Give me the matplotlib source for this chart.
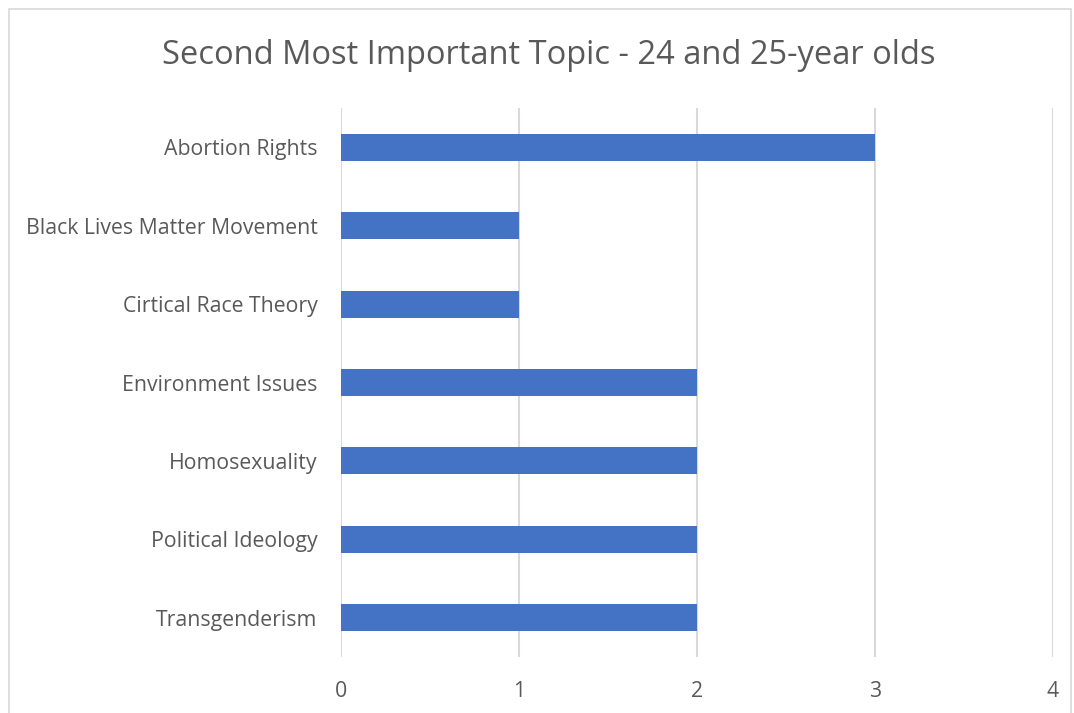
import matplotlib
matplotlib.use("Agg")
import matplotlib.pyplot as plt
from matplotlib.patches import Rectangle

topics = [
    "Abortion Rights",
    "Black Lives Matter Movement",
    "Cirtical Race Theory",
    "Environment Issues",
    "Homosexuality",
    "Political Ideology",
    "Transgenderism",
]
counts = [3, 1, 1, 2, 2, 2, 2]
x_ticks = [0, 1, 2, 3, 4]

W, H = 1074, 713
fig = plt.figure(figsize=(W / 100, H / 100), dpi=100)
plt.rcParams["font.family"] = ["Open Sans", "DejaVu Sans"]

# chart frame
fig.patches.append(Rectangle((9 / W, -0.05), (1071 - 9) / W, 1.05 - 9 / H,
                             transform=fig.transFigure, fill=False,
                             edgecolor="#d9d9d9", linewidth=1.2))

ax = fig.add_axes([341 / W, 1 - 657 / H, (1053 - 341) / W, (657 - 108) / H])
ypos = list(range(len(topics)))
ax.barh(ypos, counts, height=0.345, color="#4472C4", zorder=3)
ax.set_ylim(len(topics) - 0.5, -0.5)
ax.set_xlim(0, 4)
ax.set_xticks(x_ticks)
ax.set_xticklabels([str(v) for v in x_ticks])
ax.set_yticks(ypos)
ax.set_yticklabels(topics)
ax.grid(axis="x", color="#d9d9d9", linewidth=1.5, zorder=0)
for s in ax.spines.values():
    s.set_visible(False)
ax.tick_params(axis="both", length=0, labelsize=15.3, colors="#595959")
ax.tick_params(axis="y", pad=17)
ax.tick_params(axis="x", pad=17)

fig.text(549 / W, 1 - 56 / H, "Second Most Important Topic - 24 and 25-year olds",
         ha="center", va="center", fontsize=23.5, color="#595959")

fig.savefig("out.png", dpi=100)
